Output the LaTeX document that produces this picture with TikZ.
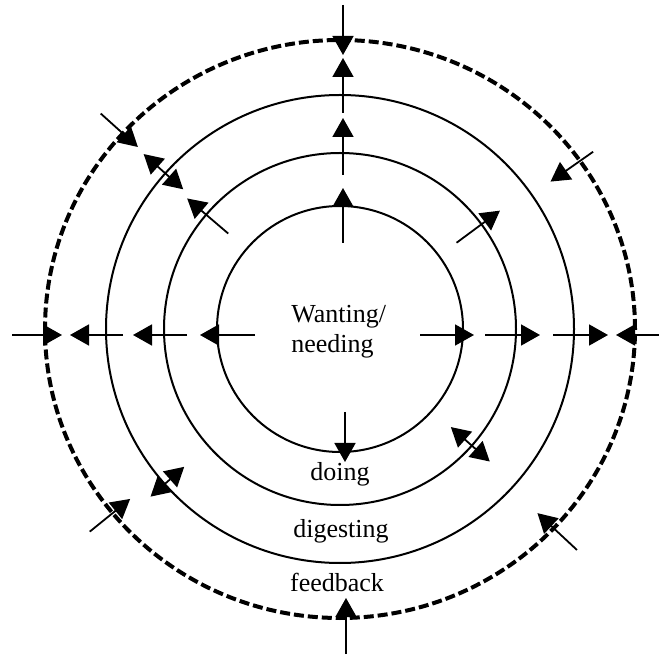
\documentclass[tikz,border=0pt]{standalone}
\usepackage{fontspec}
\setmainfont{Liberation Serif}
\usetikzlibrary{arrows.meta}

\begin{document}
\begin{tikzpicture}[
    x=0.5pt, y=0.5pt,
    ring/.style={line width=1pt},
    outerring/.style={line width=2pt, dash pattern=on 5pt off 2pt},
    arrow/.style={-{Triangle[length=9.5pt,width=10.5pt]}, line width=0.9pt},
    twoway/.style={{Triangle[length=9.5pt,width=10.5pt]}-{Triangle[length=9.5pt,width=10.5pt]}, line width=0.9pt},
    ringtext/.style={font=\fontsize{13}{15}\selectfont, align=center, inner sep=0pt}
]
\useasboundingbox (0,0) rectangle (659,654);
\coordinate (ctr) at (340,325);

% Rings
\draw[ring] (ctr) circle[radius=123];
\draw[ring] (ctr) circle[radius=176];
\draw[ring] (ctr) circle[radius=234];
\draw[outerring] (ctr) ellipse[x radius=295, y radius=289];

% Vertical axis
\foreach \xa/\ya/\yb in {343/649/599, 343/541/596, 343/479/536, 343/411/466, 345/242/192, 346/0/56}
  \draw[arrow] (\xa,\ya) -- (\xa,\yb);

% Horizontal axis
\foreach \xa/\xb in {12/62, 123/70, 187/133, 255/200, 420/474, 485/540, 553/608, 659/616}
  \draw[arrow] (\xa,319) -- (\xb,319);

% Slanted arrows
\foreach \ang/\ra/\rb in {138/322/272, 139.5/147/201, 35/309/257, 36.5/145/199, 219/322/270, 317/324/270}
  \draw[arrow] ([shift={(\ang:\ra)}]ctr) -- ([shift={(\ang:\rb)}]ctr);
\foreach \ang/\ra/\rb in {138.3/263/210, 221.5/253/208, 318.5/148/200}
  \draw[twoway] ([shift={(\ang:\ra)}]ctr) -- ([shift={(\ang:\rb)}]ctr);

% Labels
\node[ringtext, align=left, anchor=west] (wanting) at (291,322) {Wanting/\\needing};
\node[ringtext] (doing) at (340,180) {doing};
\node[ringtext] (digesting) at (341,123) {digesting};
\node[ringtext] (feedback) at (337,72) {feedback};

\end{tikzpicture}
\end{document}
